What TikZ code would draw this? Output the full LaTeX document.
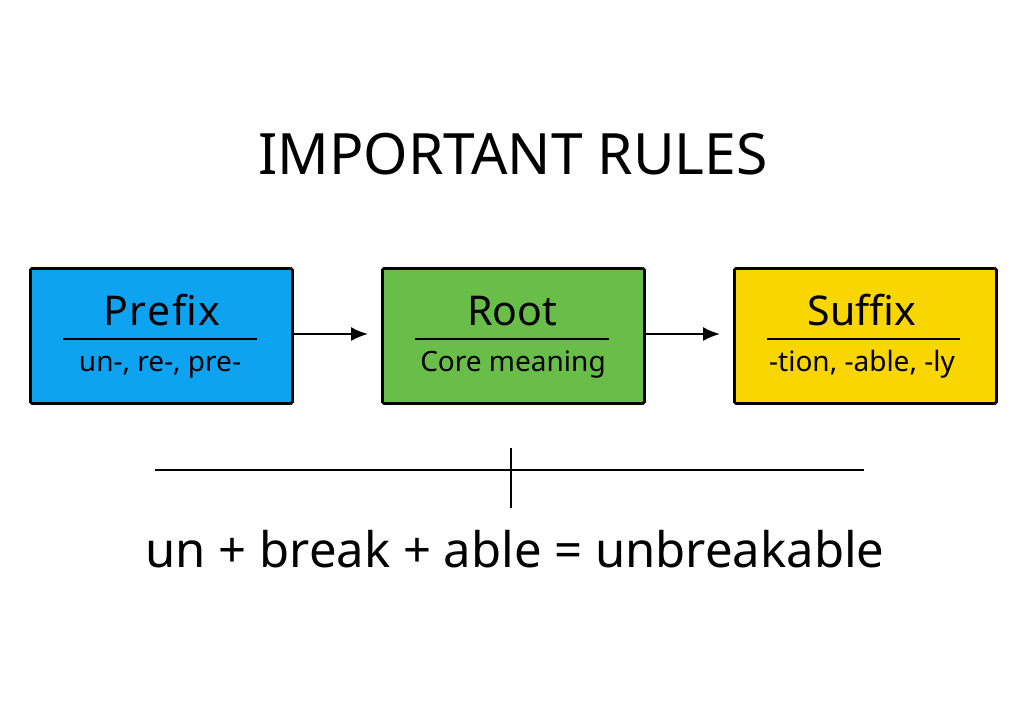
\documentclass[tikz,border=0pt]{standalone}
\usepackage{fontspec}
\setmainfont{Noto Sans}
\newfontfamily\spacedfont[LetterSpace=4]{Noto Sans}
\usetikzlibrary{arrows.meta}
\definecolor{pblue}{RGB}{14,163,240}
\definecolor{rgreen}{RGB}{104,190,72}
\definecolor{syellow}{RGB}{250,214,0}
\tikzset{
  partbox/.style={draw=black, line width=2.8pt, rounded corners=1.5pt, minimum width=262pt, minimum height=135pt, anchor=north west, inner sep=0pt},
  headtxt/.style={font=\fontsize{41}{48}\selectfont, anchor=base},
  subtxt/.style={font=\fontsize{28}{33}\selectfont, anchor=base},
  rule/.style={line width=2pt},
  flow/.style={line width=2pt, -{Latex[length=17pt,width=14pt]}, shorten >=13pt},
  axis/.style={line width=2.6pt}
}
\begin{document}
\begin{tikzpicture}[x=1pt,y=-1pt]
\useasboundingbox[fill=white] (0,0) rectangle (1024,724);
\node[font=\fontsize{57}{66}\selectfont, anchor=base] (title) at (513,174) {IMPORTANT RULES};
% boxes
\node[partbox, fill=pblue] (pre) at (29,267) {};
\node[partbox, fill=rgreen] (root) at (381,267) {};
\node[partbox, fill=syellow] (suf) at (733,267) {};
% headings
\node[headtxt, font=\fontsize{41}{48}\spacedfont] (preh) at (162,325) {Prefix};
\node[headtxt] (rooth) at (512,325) {Root};
\node[headtxt] (sufh) at (862,325) {Suffix};
% dividers
\draw[rule] (63,339) -- (257,339);
\draw[rule] (415,339) -- (609,339);
\draw[rule] (767,339) -- (960,339);
% sub texts
\node[subtxt] (pres) at (160,371) {un-, re-, pre-};
\node[subtxt] (roots) at (513,371) {Core meaning};
\node[subtxt] (sufs) at (862,371) {-tion, -able, -ly};
% arrows
\draw[flow] (pre.east |- 0,334) -- (root.west |- 0,334);
\draw[flow] (root.east |- 0,334) -- (suf.west |- 0,334);
% timeline
\coordinate (la) at (155,470);
\coordinate (lb) at (864,470);
\coordinate (ta) at (511,448);
\coordinate (tb) at (511,508);
\draw[axis] (la) -- (lb);
\draw[axis] (ta) -- (tb);
\node[font=\fontsize{49}{56}\selectfont, anchor=base] (eq) at (515,567) {un + break + able = unbreakable};
\end{tikzpicture}
\end{document}
